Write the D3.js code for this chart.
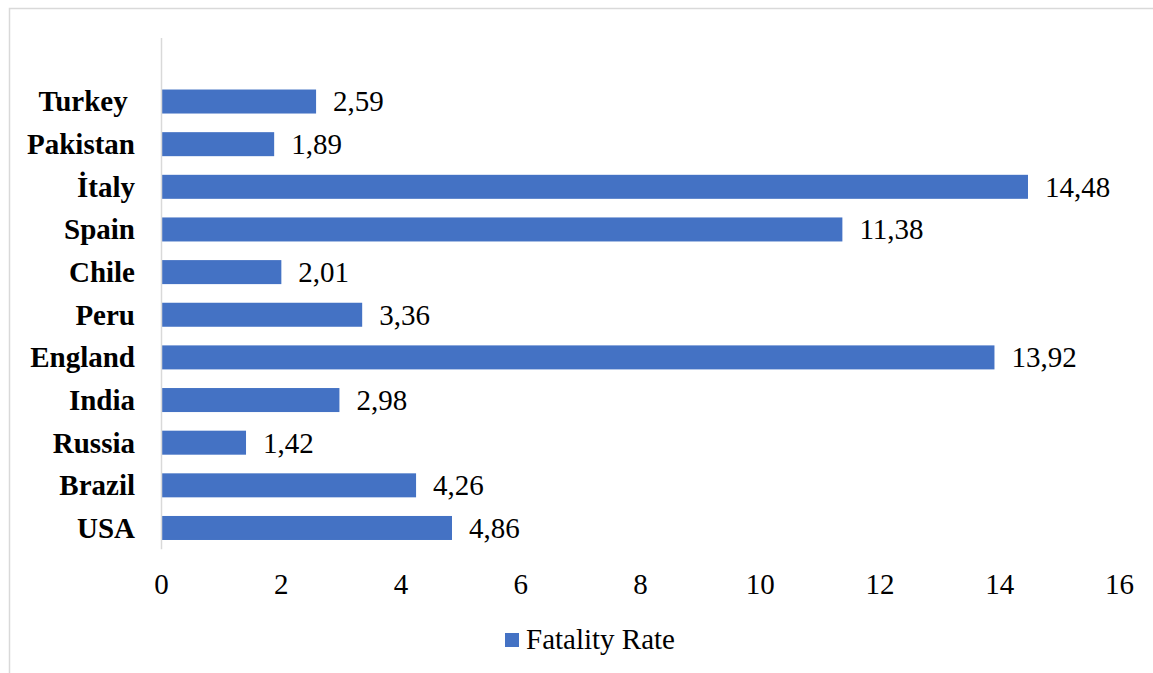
<!DOCTYPE html>
<html>
<head>
<meta charset="utf-8">
<script src="https://cdn.jsdelivr.net/npm/d3@7"></script>
<style>
  html, body { margin: 0; padding: 0; background: #fff; }
  svg { display: block; }
</style>
</head>
<body>
<svg id="chart" width="1153" height="673" style="font-family:'Liberation Serif';font-size:29px"></svg>
<script>
// Fatality rate by country (%), listed top to bottom
const countries = ["Turkey ", "Pakistan", "\u0130taly", "Spain", "Chile", "Peru", "England", "India", "Russia", "Brazil", "USA"];
const fatalityRates = [2.59, 1.89, 14.48, 11.38, 2.01, 3.36, 13.92, 2.98, 1.42, 4.26, 4.86];
const xTicks = [0, 2, 4, 6, 8, 10, 12, 14, 16];
const seriesName = "Fatality Rate";

const W = 1153, H = 673;
const barColor = "#4472C4";
const lineColor = "#d9d9d9";

const svg = d3.select("#chart");

// Chart frame
svg.append("rect")
  .attr("x", 9.5).attr("y", 8.5)
  .attr("width", W + 10).attr("height", H + 10)
  .attr("fill", "#fff")
  .attr("stroke", lineColor)
  .attr("stroke-width", 1.5);

const plot = { left: 161, right: 1119, top: 38, bandTop: 80.2, bottom: 549.3 };

const x = d3.scaleLinear()
  .domain([0, 16])
  .range([plot.left, plot.right]);

const y = d3.scaleBand()
  .domain(countries)
  .range([plot.bandTop, plot.bottom])
  .paddingInner(0.437)
  .paddingOuter(0.2185);

const data = countries.map((c, i) => ({ country: c, value: fatalityRates[i] }));

// Bars
svg.append("g")
  .selectAll("rect")
  .data(data)
  .join("rect")
  .attr("x", x(0))
  .attr("y", d => y(d.country))
  .attr("width", d => x(d.value) - x(0))
  .attr("height", y.bandwidth())
  .attr("fill", barColor);

// Vertical category axis line
svg.append("line")
  .attr("x1", x(0) + 0.5).attr("x2", x(0) + 0.5)
  .attr("y1", plot.top).attr("y2", plot.bottom)
  .attr("stroke", lineColor)
  .attr("stroke-width", 1.5);

// Category labels (trailing spaces kept)
const yAxis = d3.axisLeft(y).tickSize(0).tickPadding(26);
const gy = svg.append("g")
  .attr("transform", `translate(${x(0)},0)`)
  .call(yAxis)
  .attr("font-family", null)
  .attr("font-size", null);
gy.select(".domain").remove();
gy.selectAll("text")
  .attr("dy", "0.34em")
  .attr("font-weight", "bold")
  .attr("fill", "#000")
  .style("white-space", "pre");

// Value labels with decimal comma
const fmt = v => d3.format(".2f")(v).replace(".", ",");
svg.append("g")
  .selectAll("text")
  .data(data)
  .join("text")
  .attr("x", d => x(d.value) + 17)
  .attr("y", d => y(d.country) + y.bandwidth() / 2)
  .attr("dy", "0.34em")
  .attr("fill", "#000")
  .text(d => fmt(d.value));

// Value axis tick labels
const xAxis = d3.axisBottom(x).tickValues(xTicks).tickSize(0).tickPadding(0).tickFormat(d3.format("d"));
const gx = svg.append("g")
  .attr("transform", `translate(0,${plot.bottom})`)
  .call(xAxis)
  .attr("font-family", null)
  .attr("font-size", null);
gx.select(".domain").remove();
gx.selectAll("text")
  .attr("dy", null)
  .attr("y", 45)
  .attr("fill", "#000");

// Legend
const legend = svg.append("g").attr("transform", "translate(505,633)");
legend.append("rect")
  .attr("width", 14).attr("height", 14)
  .attr("fill", barColor);
legend.append("text")
  .attr("x", 21).attr("y", 16)
  .attr("fill", "#000")
  .text(seriesName);
</script>
</body>
</html>
